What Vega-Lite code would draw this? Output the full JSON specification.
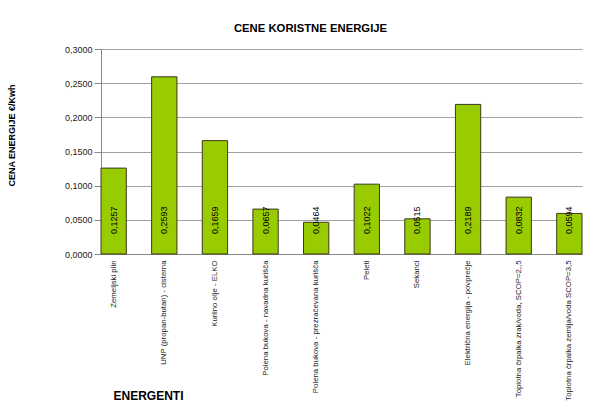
{
  "$schema": "https://vega.github.io/schema/vega-lite/v6.json",
  "width": 481,
  "height": 205,
  "autosize": {"type": "none"},
  "padding": {"left": 101, "top": 49, "right": 18, "bottom": 156},
  "background": "white",
  "title": {
    "text": "CENE KORISTNE ENERGIJE",
    "font": "Liberation Sans",
    "fontSize": 11.3,
    "fontWeight": "bold",
    "color": "#000000",
    "anchor": "middle",
    "frame": "group",
    "dx": -31,
    "baseline": "alphabetic",
    "offset": 2
  },
  "data": {
    "values": [
      {"energent": "Zemeljski plin", "cena": 0.1257},
      {"energent": "UNP (propan-butan) - cisterna", "cena": 0.2593},
      {"energent": "Kurilno olje - ELKO", "cena": 0.1659},
      {"energent": "Polena bukova - navadna kurišča", "cena": 0.0657},
      {"energent": "Polena bukova - prezračevana kurišča", "cena": 0.0464},
      {"energent": "Peleti", "cena": 0.1022},
      {"energent": "Sekanci", "cena": 0.0515},
      {"energent": "Električna energija - povprečje", "cena": 0.2189},
      {"energent": "Toplotna črpalka zrak/voda, SCOP=2,,5", "cena": 0.0832},
      {"energent": "Toplotna črpalka zemlja/voda SCOP=3,5", "cena": 0.0594}
    ]
  },
  "encoding": {
    "x": {
      "field": "energent",
      "type": "nominal",
      "sort": null,
      "scale": {"paddingInner": 0.5, "paddingOuter": 0},
      "axis": {
        "title": "ENERGENTI",
        "titleFont": "Liberation Sans",
        "titleFontSize": 12,
        "titleFontWeight": "bold",
        "titleColor": "#000000",
        "titleAnchor": "start",
        "titleAlign": "left",
        "titleBaseline": "middle",
        "titleX": 12,
        "titleY": 141,
        "labelAngle": -90,
        "labelAlign": "right",
        "labelBaseline": "middle",
        "labelFont": "Liberation Sans",
        "labelFontSize": 7.8,
        "labelColor": "#222222",
        "labelPadding": 6,
        "labelLimit": 200,
        "labelOverlap": false,
        "ticks": false,
        "domainColor": "#888888",
        "grid": false
      }
    }
  },
  "layer": [
    {
      "mark": {"type": "bar", "fill": "#99CC00", "stroke": "#3a3a1a", "strokeWidth": 1},
      "encoding": {
        "y": {
          "field": "cena",
          "type": "quantitative",
          "scale": {"domain": [0, 0.3], "nice": false},
          "axis": {
            "title": "CENA ENERGIJE €/Kwh",
            "titleFont": "Liberation Sans",
            "titleFontSize": 9,
            "titleFontWeight": "bold",
            "titleColor": "#000000",
            "titleAngle": -90,
            "titleAlign": "center",
            "titleBaseline": "middle",
            "titleX": -90,
            "titleY": 86,
            "values": [0, 0.05, 0.1, 0.15, 0.2, 0.25, 0.3],
            "format": ".4f",
            "labelOverlap": false,
            "labelFont": "Liberation Sans",
            "labelFontSize": 9,
            "labelColor": "#222222",
            "labelPadding": 2,
            "tickSize": 7,
            "tickColor": "#888888",
            "domainColor": "#888888",
            "gridColor": "#a0a0a0",
            "gridWidth": 1
          }
        }
      }
    },
    {
      "mark": {"type": "text", "angle": -90, "align": "left", "baseline": "middle", "dx": 20, "font": "Liberation Sans", "fontSize": 9, "color": "#000000"},
      "encoding": {
        "y": {
          "datum": 0,
          "type": "quantitative",
          "axis": {
            "title": "CENA ENERGIJE €/Kwh",
            "titleFont": "Liberation Sans",
            "titleFontSize": 9,
            "titleFontWeight": "bold",
            "titleColor": "#000000",
            "titleAngle": -90,
            "titleAlign": "center",
            "titleBaseline": "middle",
            "titleX": -90,
            "titleY": 86,
            "values": [0, 0.05, 0.1, 0.15, 0.2, 0.25, 0.3],
            "format": ".4f",
            "labelOverlap": false,
            "labelFont": "Liberation Sans",
            "labelFontSize": 9,
            "labelColor": "#222222",
            "labelPadding": 2,
            "tickSize": 7,
            "tickColor": "#888888",
            "domainColor": "#888888",
            "gridColor": "#a0a0a0",
            "gridWidth": 1
          }
        },
        "text": {"field": "cena", "type": "quantitative", "format": ".4f"}
      }
    }
  ],
  "config": {
    "view": {"stroke": null},
    "locale": {"number": {"decimal": ",", "thousands": ".", "grouping": [3], "currency": ["", " €"]}}
  }
}
